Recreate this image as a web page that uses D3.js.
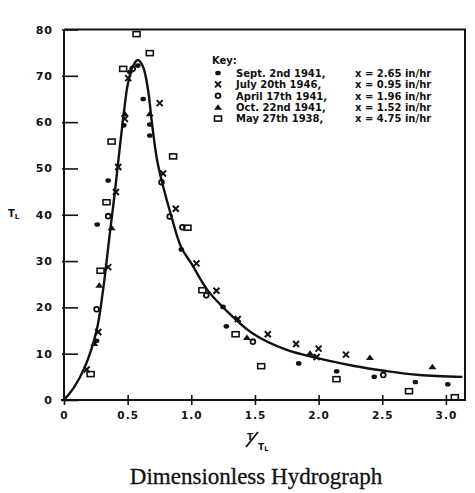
<!DOCTYPE html>
<html>
<head>
<meta charset="utf-8">
<script src="https://cdn.jsdelivr.net/npm/d3@7"></script>
<style>
  body { margin: 0; background: #fff; }
  svg text { fill: #111; }
</style>
</head>
<body>
<div id="chart"></div>
<script>
// values
var xTicks = [0, 0.5, 1.0, 1.5, 2.0, 2.5, 3.0];
var yTicks = [0, 10, 20, 30, 40, 50, 60, 70, 80];

var curveX = [0, 0.08, 0.165, 0.256, 0.308, 0.36, 0.40, 0.44, 0.47, 0.50, 0.54, 0.58, 0.62, 0.66, 0.69, 0.73, 0.78, 0.84, 0.92, 1.0, 1.12, 1.25, 1.48, 1.75, 2.0, 2.27, 2.53, 2.79, 3.13];
var curveY = [0, 2.8, 7.2, 15, 24, 36, 45, 55, 62, 68, 72, 73.4, 72, 67, 60, 52, 46, 40, 33, 29.5, 24, 20, 14.4, 10.8, 9, 7.4, 6.25, 5.4, 5.0];

var sept = [[0.261,37.9],[0.347,47.4],[0.256,12.8],[0.47,59.3],[0.517,70.8],[0.58,72.2],[0.622,65.0],[0.674,59.5],[0.674,57.1],[0.922,32.5],[1.249,20.1],[1.275,15.9],[1.844,7.9],[2.142,6.2],[2.437,5.0],[2.76,3.9],[3.015,3.4]];
var july = [[0.178,6.6],[0.269,14.7],[0.347,28.7],[0.408,44.9],[0.426,50.3],[0.478,60.7],[0.504,69.5],[0.752,64.1],[0.778,48.9],[0.878,41.3],[1.04,29.5],[1.197,23.6],[1.365,17.5],[1.601,14.2],[1.823,12.1],[2.0,11.1],[1.985,9.3],[2.215,9.8]];
var april = [[0.256,19.6],[0.347,39.7],[0.54,71.5],[0.766,47.0],[0.83,39.6],[0.93,37.3],[1.118,22.6],[1.484,12.6],[2.508,5.4]];
var oct = [[0.238,12.2],[0.277,24.8],[0.374,37.2],[0.478,61.8],[0.674,61.8],[1.437,13.5],[1.933,10.1],[2.403,9.2],[2.894,7.2]];
var may = [[0.209,5.6],[0.287,27.9],[0.334,42.7],[0.374,55.8],[0.465,71.5],[0.57,79.0],[0.674,74.9],[0.857,52.6],[0.97,37.2],[1.087,23.7],[1.348,14.2],[1.549,7.3],[2.14,4.5],[2.71,1.9],[3.07,0.6]];

var keyDates = ["Sept. 2nd 1941,", "July 20th 1946,", "April 17th 1941,", "Oct. 22nd 1941,", "May 27th 1938,"];
var keyRates = ["x = 2.65 in/hr", "x = 0.95 in/hr", "x = 1.96 in/hr", "x = 1.52 in/hr", "x = 4.75 in/hr"];
var keyShapes = ["dot", "cross", "circle", "triangle", "square"];

var W = 475, H = 493;
var svg = d3.select("#chart").append("svg").attr("width", W).attr("height", H);

var x = d3.scaleLinear().domain([0, 3.15]).range([64, 465]);
var y = d3.scaleLinear().domain([0, 80]).range([400, 29.5]);
var boldFont = "DejaVu Sans, Arial, sans-serif";

//---------------------------------------------------------------------
// draw one marker of a given kind centred on (cx, cy)
function marker(g, kind, cx, cy){
    switch(kind){
        case "dot":
            g.append("ellipse").attr("cx", cx).attr("cy", cy).attr("rx", 2.8).attr("ry", 2.3).attr("fill", "#111");
            break;
        case "cross":
            g.append("path").attr("d", "M" + (cx-3) + "," + (cy-3) + "L" + (cx+3) + "," + (cy+3) + "M" + (cx+3) + "," + (cy-3) + "L" + (cx-3) + "," + (cy+3))
                .attr("stroke", "#111").attr("stroke-width", 2).attr("fill", "none");
            break;
        case "circle":
            g.append("circle").attr("cx", cx).attr("cy", cy).attr("r", 2.4).attr("fill", "none").attr("stroke", "#111").attr("stroke-width", 1.8);
            break;
        case "triangle":
            g.append("path").attr("d", "M" + cx + "," + (cy-3) + "L" + (cx+4) + "," + (cy+2.5) + "L" + (cx-4) + "," + (cy+2.5) + "Z").attr("fill", "#111");
            break;
        case "square":
            g.append("rect").attr("x", cx-3.5).attr("y", cy-2.5).attr("width", 7).attr("height", 5).attr("fill", "none").attr("stroke", "#111").attr("stroke-width", 1.6);
            break;
    }
}

//---------------------------------------------------------------------
// axes
var yAxis = d3.axisLeft(y).tickValues(yTicks).tickSizeInner(-14).tickSizeOuter(0).tickPadding(11);
var gy = svg.append("g").attr("transform", "translate(" + x(0) + ",0)").call(yAxis);
gy.select(".domain").remove();
gy.selectAll(".tick line").attr("x1", -2).attr("stroke", "#111").attr("stroke-width", 1.6);
gy.selectAll(".tick text").attr("font-family", boldFont).attr("font-weight", "bold").attr("font-size", 11).attr("letter-spacing", 1);

var xAxis = d3.axisBottom(x).tickValues(xTicks).tickSizeInner(5).tickSizeOuter(0).tickPadding(7)
    .tickFormat(function(d){ return d === 0 ? "0" : d.toFixed(1); });
var gx = svg.append("g").attr("transform", "translate(0," + y(0) + ")").call(xAxis);
gx.select(".domain").remove();
gx.selectAll(".tick line").attr("y1", -5).attr("stroke", "#111").attr("stroke-width", 1.6);
gx.selectAll(".tick text").attr("font-family", boldFont).attr("font-weight", "bold").attr("font-size", 10.5).attr("letter-spacing", 1);

// frame
svg.append("path")
    .attr("d", "M" + x(0) + "," + y(80) + "L" + x(0) + "," + (y(0)+1) + "M" + (x(0)-3) + "," + y(0) + "L" + x(3.15) + "," + y(0) + "L" + x(3.15) + "," + y(80) + "L" + x(0) + "," + y(80))
    .attr("fill", "none").attr("stroke", "#111").attr("stroke-width", 2);

//---------------------------------------------------------------------
// fitted curve
var line = d3.line().x(function(d){ return x(d[0]); }).y(function(d){ return y(d[1]); }).curve(d3.curveCatmullRom);
svg.append("path").datum(d3.zip(curveX, curveY)).attr("d", line)
    .attr("fill", "none").attr("stroke", "#111").attr("stroke-width", 2.4);

// observed points
var pts = svg.append("g");
[[sept, "dot"], [july, "cross"], [april, "circle"], [oct, "triangle"], [may, "square"]].forEach(function(s){
    s[0].forEach(function(p){ marker(pts, s[1], x(p[0]), y(p[1])); });
});

//---------------------------------------------------------------------
// key
var key = svg.append("g").attr("font-family", boldFont).attr("font-weight", "bold").attr("font-size", 10);
key.append("text").attr("x", 212).attr("y", 64).text("Key:");
keyDates.forEach(function(d, i){
    var cy = 73 + i * 11.4;
    marker(key, keyShapes[i], 218, cy);
    key.append("text").attr("x", 236).attr("y", cy + 3.8).text(d);
    key.append("text").attr("x", 355).attr("y", cy + 3.8).text(keyRates[i]);
});

// axis labels
var yl = svg.append("text").attr("x", 8).attr("y", 217).attr("font-family", boldFont).attr("font-weight", "bold").attr("font-size", 10);
yl.append("tspan").text("T");
yl.append("tspan").attr("font-size", 7).attr("dy", 2).text("L");

svg.append("text").attr("x", 247).attr("y", 440).attr("font-family", boldFont).attr("font-weight", "bold").attr("font-size", 9).text("T");
svg.append("line").attr("x1", 246).attr("y1", 447).attr("x2", 258).attr("y2", 432).attr("stroke", "#111").attr("stroke-width", 1.8);
var xl = svg.append("text").attr("x", 258).attr("y", 450).attr("font-family", boldFont).attr("font-weight", "bold").attr("font-size", 9);
xl.append("tspan").text("T");
xl.append("tspan").attr("font-size", 6.5).attr("dy", 1).text("L");

// title
svg.append("text").attr("x", 256).attr("y", 484).attr("text-anchor", "middle")
    .attr("font-family", "Liberation Serif, Times New Roman, serif").attr("font-size", 23)
    .attr("stroke", "#111").attr("stroke-width", 0.3).text("Dimensionless Hydrograph");
</script>
</body>
</html>
